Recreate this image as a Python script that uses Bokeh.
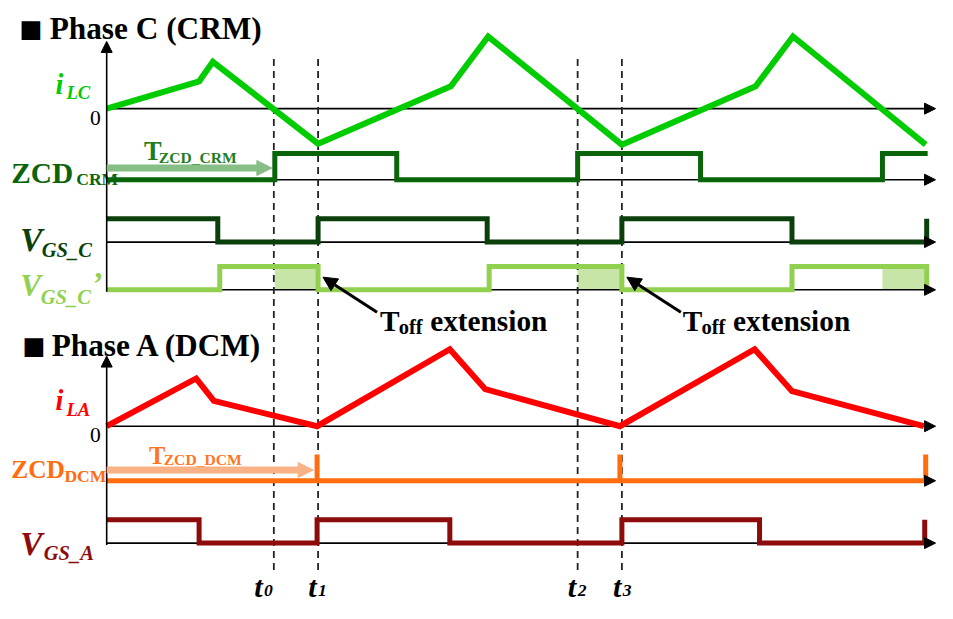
from bokeh.plotting import figure
from bokeh.models import Range1d, Arrow, NormalHead
from bokeh.core.properties import value
from bokeh.embed import file_html
from bokeh.resources import INLINE

# ---------------- data (time in arbitrary units, t=0 at the vertical axis) -------------
t_marks = [1.70, 2.15, 4.79, 5.24]
t_names = ["0", "1", "2", "3"]

# Phase C (CRM) inductor current (normalised)
ilc_t = [0.00, 0.94, 1.08, 2.15, 3.50, 3.88, 5.24, 6.60, 6.98, 8.33]
ilc_v = [0.00, 0.56, 0.96, -0.72, 0.46, 1.48, -0.74, 0.46, 1.48, -0.74]

# ZCD_CRM logic: edge times and levels between edges
zcd_crm_t = [0.00, 1.71, 2.95, 4.79, 6.04, 7.89, 8.35]
zcd_crm_lv = [0, 1, 0, 1, 0, 1]

# V_GS_C
vgsc_t = [0.00, 1.13, 2.15, 3.87, 5.24, 6.97, 8.34, 8.34]
vgsc_lv = [1, 0, 1, 0, 1, 0, 1]

# V_GS_C'
vgscp_t = [0.00, 1.15, 2.15, 3.89, 5.24, 6.97, 8.34, 8.34]
vgscp_lv = [0, 1, 0, 1, 0, 1, 0]

# T_off extension intervals
toff_start = [1.71, 4.79, 7.89]
toff_end = [2.15, 5.24, 8.34]

# Phase A (DCM) inductor current (normalised)
ila_t = [0.00, 0.91, 1.09, 2.14, 3.49, 3.85, 5.22, 6.59, 6.97, 8.31]
ila_v = [0.00, 0.98, 0.52, 0.00, 1.58, 0.76, 0.00, 1.58, 0.72, 0.00]

# ZCD_DCM pulses
zcd_dcm_pulses = [2.14, 5.22, 8.33]

# V_GS_A
vgsa_t = [0.00, 0.94, 2.14, 3.49, 5.24, 6.64, 8.32, 8.32]
vgsa_lv = [1, 0, 1, 0, 1, 0, 1]

# ---------------- layout ----------------
W, H = 937, 603
REF_W, REF_H = 953, 619
FS = 0.978  # font scale (figure is slightly smaller than the reference canvas)
PX0, PXPU = 108.0, 100.0


def tx(px):
    return (px - PX0) / PXPU


T_END = tx(951)

# trace baselines and gains (vertical layout units)
LAY = {
    "ilc": (111, 50), "zcdc": (184, 27), "vgsc": (248, 24), "vgscp": (297, 24),
    "ila": (437, 50), "zcdd": (493, 27), "vgsa": (557, 24),
}


def Y(key, vals):
    b, g = LAY[key]
    return [b - g * v for v in vals]


def steps(ts, lv):
    xs, ys = [], []
    for i, l in enumerate(lv):
        xs += [ts[i], ts[i + 1]]
        ys += [l, l]
    return xs, ys


C_ILC = "#00cc00"
C_ZCDC = "#0a650a"
C_VGSC = "#0b3f0b"
C_VGSCP = "#92d050"
C_SHADE = "#c7e5a7"
C_ILA = "#ff0000"
C_ZCDD = "#ff6d0f"
C_VGSA = "#8d0b0b"
C_ARR_G = "#86be86"
C_ARR_O = "#f9b285"
FONT = "Liberation Serif"

p = figure(width=W, height=H, x_range=Range1d(tx(0), tx(REF_W)), y_range=Range1d(REF_H, 0),
           output_backend="svg", toolbar_location=None, min_border=0,
           x_axis_location=None, y_axis_location=None)
p.grid.visible = False
p.outline_line_color = None
p.background_fill_color = "white"
p.border_fill_color = "white"

# shading (T_off extension)
bc, gc = LAY["vgscp"]
p.quad(left=toff_start, right=toff_end, top=bc - gc, bottom=bc, fill_color=C_SHADE,
       line_color=None)


# axes
def axis_arrow(x0, y0, x1, y1, lw=1.6, size=11, color="black"):
    p.add_layout(Arrow(x_start=x0, y_start=y0, x_end=x1, y_end=y1, line_width=lw,
                       line_color=color,
                       end=NormalHead(size=size, fill_color=color, line_color=color, line_width=1)))


for key in ["ilc", "zcdc", "vgsc", "vgscp", "ila", "zcdd", "vgsa"]:
    b = LAY[key][0]
    p.segment(x0=[0], y0=[b], x1=[T_END - 0.05], y1=[b], line_color="black", line_width=1.6)
    axis_arrow(T_END - 0.06, b, T_END, b)
axis_arrow(0, 299, 0, 42)
axis_arrow(0, 559, 0, 365)

# dashed time markers
p.segment(x0=t_marks, y0=[60] * 4, x1=t_marks, y1=[588] * 4, line_color="#222222",
          line_width=1.8, line_dash="7 5")

# waveforms
p.line(ilc_t, Y("ilc", ilc_v), line_color=C_ILC, line_width=6, line_join="miter")
xs, ys = steps(zcd_crm_t, zcd_crm_lv)
p.line(xs, Y("zcdc", ys), line_color=C_ZCDC, line_width=5, line_join="miter")
xs, ys = steps(vgsc_t, vgsc_lv)
p.line(xs, Y("vgsc", ys), line_color=C_VGSC, line_width=5, line_join="miter")
xs, ys = steps(vgscp_t, vgscp_lv)
p.line(xs, Y("vgscp", ys), line_color=C_VGSCP, line_width=5, line_join="miter")

p.line(ila_t, Y("ila", ila_v), line_color=C_ILA, line_width=6, line_join="miter")
zx, zy = [0.0], [0]
for i, tp in enumerate(zcd_dcm_pulses):
    if i < len(zcd_dcm_pulses) - 1:
        zx += [tp, tp, tp]
        zy += [0, 1, 0]
    else:
        zx += [tp, tp]
        zy += [0, 1]
p.line(zx, Y("zcdd", zy), line_color=C_ZCDD, line_width=5, line_join="miter")
xs, ys = steps(vgsa_t, vgsa_lv)
p.line(xs, Y("vgsa", ys), line_color=C_VGSA, line_width=5, line_join="miter")

# ZCD blanking arrows
p.add_layout(Arrow(x_start=0, y_start=172, x_end=tx(276), y_end=172, line_width=7,
                   line_color=C_ARR_G,
                   end=NormalHead(size=15, fill_color=C_ARR_G, line_color=C_ARR_G, line_width=1)))
p.add_layout(Arrow(x_start=0, y_start=482, x_end=tx(318), y_end=482, line_width=7,
                   line_color=C_ARR_O,
                   end=NormalHead(size=15, fill_color=C_ARR_O, line_color=C_ARR_O, line_width=1)))

# T_off extension pointer arrows
for dx in [0, 309]:
    p.add_layout(Arrow(x_start=tx(383 + dx), y_start=320, x_end=tx(328 + dx), y_end=284,
                       line_width=3, line_color="black",
                       end=NormalHead(size=14, fill_color="black", line_color="black", line_width=1)))


# ---------------- texts ----------------
def txt(px, py, s, size, color, style="bold", align="left", font=FONT):
    p.text(x=[tx(px)], y=[py], text=[s], text_font=value(font),
           text_font_size=f"{size * FS:.1f}px",
           text_font_style=style, text_color=color, text_align=align,
           text_baseline="alphabetic")


# titles
txt(19, 29, "■", 25, "black", style="normal", font="DejaVu Sans")
txt(50, 29, "Phase C (CRM)", 32, "black")
txt(22, 354, "■", 25, "black", style="normal", font="DejaVu Sans")
txt(52, 354, "Phase A (DCM)", 32, "black")

# phase C labels
txt(56, 86, "i", 29, C_ILC, style="bold italic")
txt(67, 94, "LC", 19, C_ILC, style="bold italic")
txt(91, 121, "0", 22, "black", style="normal")
txt(11, 177, "ZCD", 30, C_ZCDC)
txt(77, 183, "CRM", 18, C_ZCDC)
txt(146, 155, "T", 27, "#1f7d1f")
txt(161, 161, "ZCD_CRM", 16, "#1f7d1f")
txt(20, 245, "V", 34, C_VGSC, style="bold italic")
txt(42, 256, "GS_C", 21, C_VGSC, style="bold italic")
txt(20, 293, "V", 32, C_VGSCP, style="bold italic")
txt(41, 304, "GS_C", 21, C_VGSCP, style="bold italic")
txt(94, 290, "\u2019", 32, C_VGSCP, style="bold")

for dx in [0, 308]:
    txt(386 + dx, 329, "T", 30, "black")
    txt(405 + dx, 335, "off", 21, "black")
    txt(437 + dx, 329, "extension", 30, "black")

# phase A labels
txt(56, 411, "i", 29, C_ILA, style="bold italic")
txt(67, 420, "LA", 19, C_ILA, style="bold italic")
txt(91, 446, "0", 22, "black", style="normal")
txt(11, 481, "ZCD", 26, C_ZCDD)
txt(65, 488, "DCM", 18, C_ZCDD)
txt(151, 467, "T", 25, "#ff7526")
txt(166, 471, "ZCD_DCM", 16, "#ff7526")
txt(20, 557, "V", 34, C_VGSA, style="bold italic")
txt(44, 567, "GS_A", 21, C_VGSA, style="bold italic")

# time-mark labels
t_dx = [-20, -10, -10, -9]
for tm, nm, d in zip(t_marks, t_names, t_dx):
    px = PX0 + PXPU * tm + d
    txt(px, 602, "t", 31, "black", style="bold italic")
    txt(px + 10, 606, nm, 18, "black", style="bold italic")

open("out.html", "w").write(file_html(p, INLINE))
